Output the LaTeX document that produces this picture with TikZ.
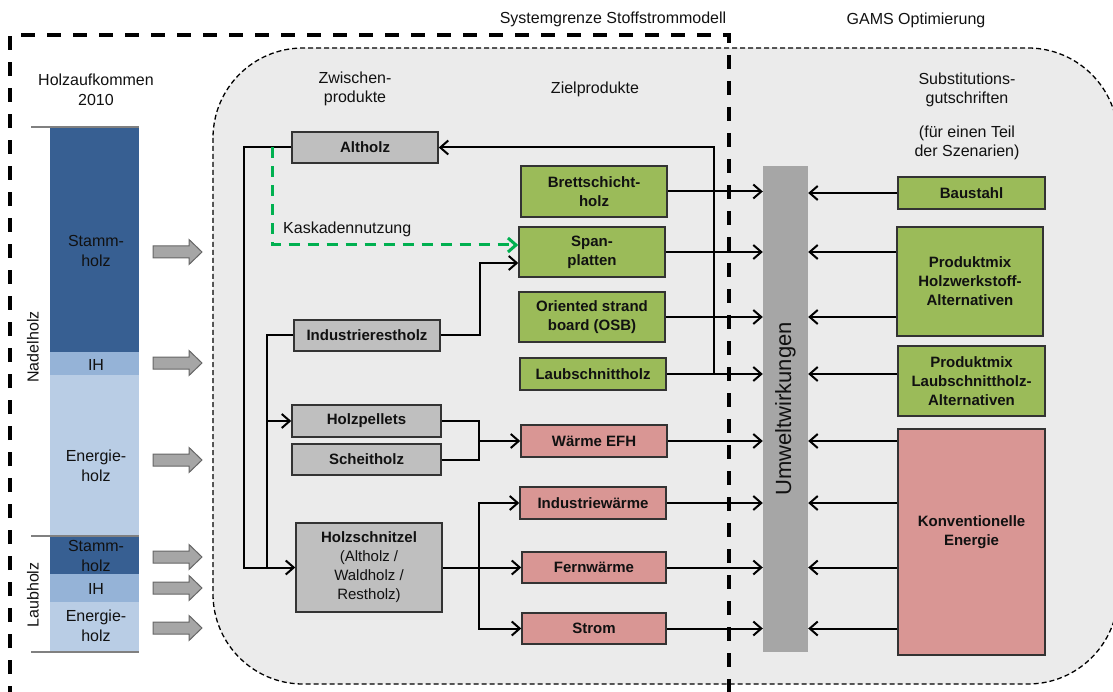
\documentclass[tikz,border=0pt]{standalone}
\usepackage{fontspec}
\setmainfont{Liberation Sans}
\usetikzlibrary{arrows.meta}

\definecolor{stammc}{HTML}{375F92}
\definecolor{ihc}{HTML}{95B3D7}
\definecolor{energc}{HTML}{B9CDE5}
\definecolor{zwfill}{HTML}{BFBFBF}
\definecolor{grfill}{HTML}{9BBB59}
\definecolor{rdfill}{HTML}{D99694}
\definecolor{uwfill}{HTML}{A6A6A6}
\definecolor{regionfill}{HTML}{EBEBEB}
\definecolor{boxline}{HTML}{333333}
\definecolor{kaskc}{HTML}{00B050}
\definecolor{txtc}{HTML}{111111}

\begin{document}
\begin{tikzpicture}[x=1pt,y=-1pt,
  reg/.style={font=\fontsize{16}{19.5}\selectfont, align=center, text=txtc, inner sep=0pt},
  box/.style={draw=boxline, line width=1.5pt, inner sep=0pt, align=center,
    font=\bfseries\fontsize{15}{19}\selectfont, text=txtc},
  zwbox/.style={box, fill=zwfill},
  grbox/.style={box, fill=grfill},
  rdbox/.style={box, fill=rdfill},
  conn/.style={line width=2pt, black},
  flow/.style={conn, -{Straight Barb[length=8pt,width=14pt]}},
  kask/.style={line width=3pt, kaskc, dash pattern=on 11pt off 8pt,
    -{Straight Barb[length=8pt,width=14pt]}},
  blk/.style={fill=uwfill, draw=gray!80!black, line width=1pt},
  sepline/.style={line width=1.8pt, gray},
  barlabel/.style={reg}
]
\useasboundingbox (0,0) rectangle (1113,692);

% grey region of the material flow and optimisation model
\draw[fill=regionfill, line width=1.3pt, dash pattern=on 5pt off 3pt, rounded corners=90pt]
  (213,48) rectangle (1118,684);

% boundary of the material flow model
\draw[line width=3.5pt, dash pattern=on 14pt off 12pt] (10,700) -- (10,35) -- (729,35) -- (729,700);

% headings
\node[reg] (hHolz) at (96,90) {Holzaufkommen\\2010};
\node[reg] (hZw) at (355,89) {Zwischen-\\produkte};
\node[reg] (hZiel) at (595,89) {Zielprodukte};
\node[reg] (hSys) at (613,19) {Systemgrenze Stoffstrommodell};
\node[reg] (hGams) at (916,20) {GAMS Optimierung};
\node[reg] (hSub) at (967,90) {Substitutions-\\gutschriften};
\node[reg] (hTeil) at (967,143) {(für einen Teil\\der Szenarien)};

% wood supply bar
\fill[stammc] (50,127) rectangle (139,352);
\fill[ihc] (50,352) rectangle (139,375);
\fill[energc] (50,375) rectangle (139,536);
\fill[stammc] (50,536) rectangle (139,574);
\fill[ihc] (50,574) rectangle (139,602);
\fill[energc] (50,602) rectangle (139,652);
\draw[sepline] (31,127) -- (139,127);
\draw[sepline] (31,536) -- (139,536);
\draw[sepline] (31,652) -- (139,652);

\node[barlabel] (nSt) at (96,251) {Stamm-\\holz};
\node[barlabel] (nIH) at (96,365) {IH};
\node[barlabel] (nEn) at (96,466) {Energie-\\holz};
\node[barlabel] (lSt) at (96,556) {Stamm-\\holz};
\node[barlabel] (lIH) at (96,589) {IH};
\node[barlabel] (lEn) at (96,626) {Energie-\\holz};
\node[reg, rotate=90] (nadel) at (33,347) {Nadelholz};
\node[reg, rotate=90] (laub) at (33,595) {Laubholz};

% block arrows into the model
\foreach \y in {252,363,460,557,588,628}
  \draw[blk] (153,\y-6) -- (189,\y-6) -- (189,\y-12.5) -- (202,\y) -- (189,\y+12.5)
    -- (189,\y+6) -- (153,\y+6) -- cycle;

% intermediate products
\node[zwbox, minimum width=146pt, minimum height=31pt] (alt) at (365,147.5) {Altholz};
\node[zwbox, minimum width=146pt, minimum height=31pt] (ind) at (367,335.5) {Industrierestholz};
\node[zwbox, minimum width=149pt, minimum height=32pt] (pel) at (366.5,421) {Holzpellets};
\node[zwbox, minimum width=149pt, minimum height=31pt] (sch) at (366.5,459.5) {Scheitholz};
\node[zwbox, minimum width=146pt, minimum height=89pt] (hsn) at (369,567.5)
  {Holzschnitzel\\\mdseries(Altholz /\\\mdseries Waldholz /\\\mdseries Restholz)};

% target products
\node[grbox, minimum width=146pt, minimum height=51pt] (bsh) at (594,191.5) {Brettschicht-\\holz};
\node[grbox, minimum width=146pt, minimum height=50pt] (spa) at (592,252) {Span-\\platten};
\node[grbox, minimum width=146pt, minimum height=50pt] (osb) at (592,317) {Oriented strand\\board (OSB)};
\node[grbox, minimum width=146pt, minimum height=32pt] (lsh) at (593,374) {Laubschnittholz};
\node[rdbox, minimum width=146pt, minimum height=32pt] (wef) at (594,441) {Wärme EFH};
\node[rdbox, minimum width=146pt, minimum height=32pt] (iwa) at (593,503) {Industriewärme};
\node[rdbox, minimum width=144pt, minimum height=31pt] (fwa) at (594,567.5) {Fernwärme};
\node[rdbox, minimum width=144pt, minimum height=31pt] (str) at (594,628.5) {Strom};

% environmental impacts
\node[fill=uwfill, minimum width=45pt, minimum height=486pt, inner sep=0pt] (uw) at (785.5,409) {};
\node[reg, rotate=90, font=\fontsize{22}{26}\selectfont] (uwt) at (785.5,409) {Umweltwirkungen};

% substitution credits
\node[grbox, minimum width=147pt, minimum height=32pt] (bau) at (971.5,193) {Baustahl};
\node[grbox, minimum width=146pt, minimum height=109pt] (pmh) at (970,281.5) {Produktmix\\Holzwerkstoff-\\Alternativen};
\node[grbox, minimum width=147pt, minimum height=70pt] (pml) at (971.5,381) {Produktmix\\Laubschnittholz-\\Alternativen};
\node[rdbox, minimum width=147pt, minimum height=226pt] (kon) at (971.5,542) {};
\node[box, draw=none] (kont) at (971.5,532) {Konventionelle\\Energie};

% routing points
\coordinate (lx1) at (244,147.5);
\coordinate (lx2) at (267,335.5);
\coordinate (jsp) at (480,335.5);
\coordinate (kstart) at (272,147.5);
\coordinate (jw) at (479,441);
\coordinate (jh) at (479,567.5);
\coordinate (fb) at (714,374);

% flows between intermediate and target products
\draw[flow] (alt.west) -- (lx1) |- (hsn.west);
\draw[conn] (ind.west) -- (lx2) -- (lx2 |- hsn.west);
\draw[flow] (lx2 |- pel.west) -- (pel.west);
\draw[flow] (ind.east) -- (jsp) |- ([yshift=-11pt]spa.west);
\draw[kask] (kstart) |- ([yshift=7pt]spa.west);
\node[reg, anchor=west] (kl) at (283,229) {Kaskadennutzung};
\draw[conn] (pel.east) -| (jw);
\draw[conn] (sch.east) -| (jw);
\draw[flow] (jw) -- (wef.west);
\draw[flow] (hsn.east) -- (fwa.west);
\draw[flow] (jh) |- (iwa.west);
\draw[flow] (jh) |- (str.west);

% flows into environmental impacts
\foreach \n in {bsh,spa,osb,lsh,wef,iwa,fwa,str}
  \draw[flow] (\n.east) -- (\n.east -| uw.west);

% recycling back to waste wood
\draw[flow] (fb) |- (alt.east);

% credits into environmental impacts
\draw[flow] (bau.west) -- (bau.west -| uw.east);
\draw[flow] (pmh.west |- spa.east) -- (uw.east |- spa.east);
\draw[flow] (pmh.west |- osb.east) -- (uw.east |- osb.east);
\draw[flow] (pml.west |- lsh.east) -- (uw.east |- lsh.east);
\foreach \n in {wef,iwa,fwa,str}
  \draw[flow] (kon.west |- \n.east) -- (uw.east |- \n.east);
\end{tikzpicture}
\end{document}
